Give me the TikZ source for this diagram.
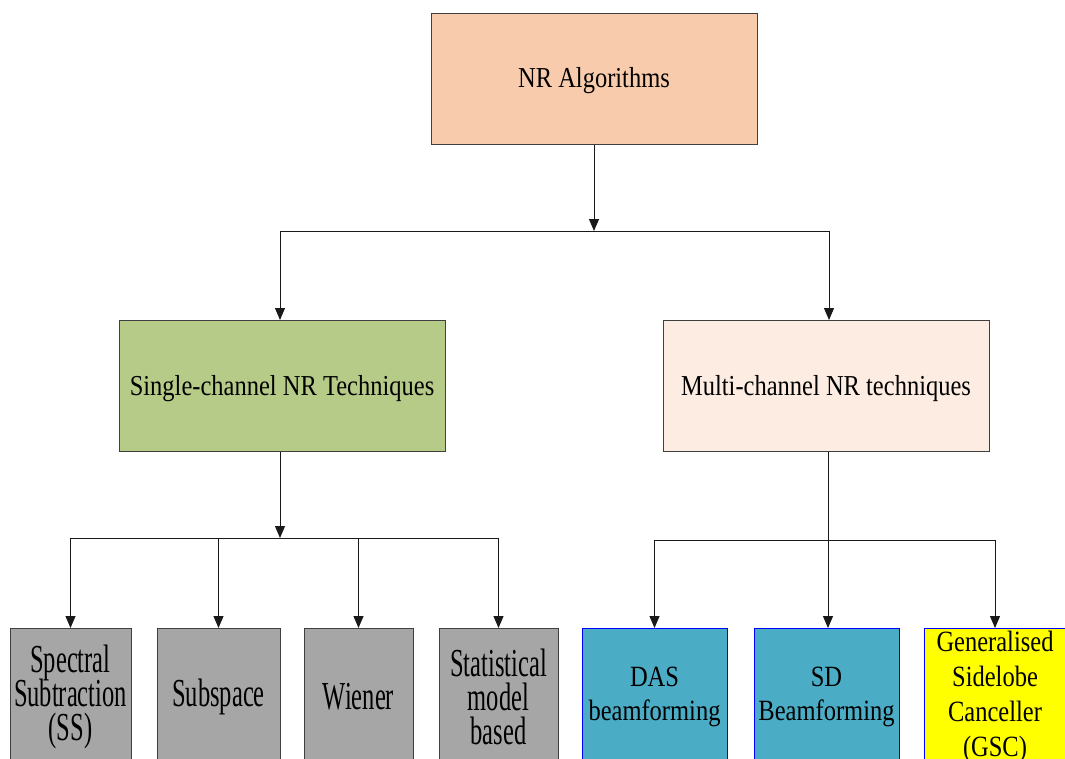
\documentclass[tikz,border=0pt]{standalone}
\usepackage{graphicx}
\usepackage{fontspec}
\setmainfont{Liberation Serif}
\usetikzlibrary{arrows.meta}

\definecolor{peach}{HTML}{F8CBAD}
\definecolor{olivegreen}{HTML}{B7CB88}
\definecolor{cream}{HTML}{FCECE1}
\definecolor{greybox}{HTML}{A6A6A6}
\definecolor{beamblue}{HTML}{4BACC6}
\definecolor{gscyellow}{HTML}{FFFF00}
\definecolor{edgegrey}{HTML}{3F3F3F}

% centred, vertically stretched label: #1 stretch, #2 baseline skip, #3 lines
\newcommand{\lbl}[3]{\makebox[0pt]{\raisebox{-2.5pt}[\height][\depth]{%
  \scalebox{1}[#1]{\parbox{400pt}{\centering
  \fontsize{24.5pt}{#2pt}\selectfont\lineskiplimit=-50pt #3}}}}}

\tikzset{
  box/.style={rectangle, inner sep=0pt, draw=edgegrey, line width=1pt},
  topbox/.style={box, minimum width=326pt, minimum height=131pt},
  leafbox/.style={box, minimum height=132pt},
  bluebox/.style={leafbox, draw=blue},
  conn/.style={draw=black!90, line width=1pt},
  arr/.style={conn, -{Triangle[length=12pt,width=10pt]}}
}

\begin{document}
\begin{tikzpicture}[x=1pt,y=-1pt]
\useasboundingbox (0,0) rectangle (1065,758);
\clip (0,0) rectangle (1065,758);

% root and the two families
\node[topbox, fill=peach] (nr) at (594,78.5) {\lbl{1.18}{29}{NR Algorithms}};
\node[topbox, fill=olivegreen] (single) at (282,386) {\lbl{1.18}{29}{Single-channel NR Techniques}};
\node[topbox, fill=cream] (multi) at (826,386) {\lbl{1.18}{29}{Multi-channel NR techniques}};

% single-channel methods
\node[leafbox, fill=greybox, minimum width=121pt] (ss) at (70.5,694.5)
  {\lbl{1.62}{21}{Spectral\\Subtraction\\(SS)}};
\node[leafbox, fill=greybox, minimum width=123pt] (sub) at (218.5,694.5)
  {\lbl{1.62}{21}{Subspace}};
\node[leafbox, fill=greybox, minimum width=109pt] (wie) at (358.5,694.5)
  {\lbl{1.62}{21}{Wiener}};
\node[leafbox, fill=greybox, minimum width=119pt] (stat) at (498.5,694.5)
  {\lbl{1.62}{21}{Statistical\\model\\based}};

% multi-channel methods
\node[bluebox, fill=beamblue, minimum width=145pt] (das) at (654.5,694.5)
  {\lbl{1.2}{29}{DAS\\beamforming}};
\node[bluebox, fill=beamblue, minimum width=145pt] (sd) at (826.5,694.5)
  {\lbl{1.2}{29}{SD\\Beamforming}};
\node[bluebox, fill=gscyellow, minimum width=142pt] (gsc) at (995,694.5)
  {\lbl{1.2}{29}{Generalised\\Sidelobe\\Canceller\\(GSC)}};

% bus junctions
\coordinate (bus1) at (594,231);
\coordinate (bus1l) at (280,231);
\coordinate (bus1r) at (829,231);
\coordinate (bus2) at (280,538);
\coordinate (bus3) at (828,540);

% root to families
\draw[arr] (nr.south) -- (bus1);
\draw[conn] (bus1l) -- (bus1r);
\draw[arr] (bus1l) -- (bus1l |- single.north);
\draw[arr] (bus1r) -- (bus1r |- multi.north);

% single-channel branch
\draw[arr] (bus2 |- single.south) -- (bus2);
\draw[conn] (ss.north |- bus2) -- (stat.north |- bus2);
\foreach \n in {ss,sub,wie,stat}
  \draw[arr] (\n.north |- bus2) -- (\n.north);

% multi-channel branch
\draw[conn] (bus3 |- multi.south) -- (bus3);
\draw[conn] (das.north |- bus3) -- (gsc.north |- bus3);
\draw[arr] (das.north |- bus3) -- (das.north);
\draw[arr] (bus3) -- (bus3 |- sd.north);
\draw[arr] (gsc.north |- bus3) -- (gsc.north);
\end{tikzpicture}
\end{document}
